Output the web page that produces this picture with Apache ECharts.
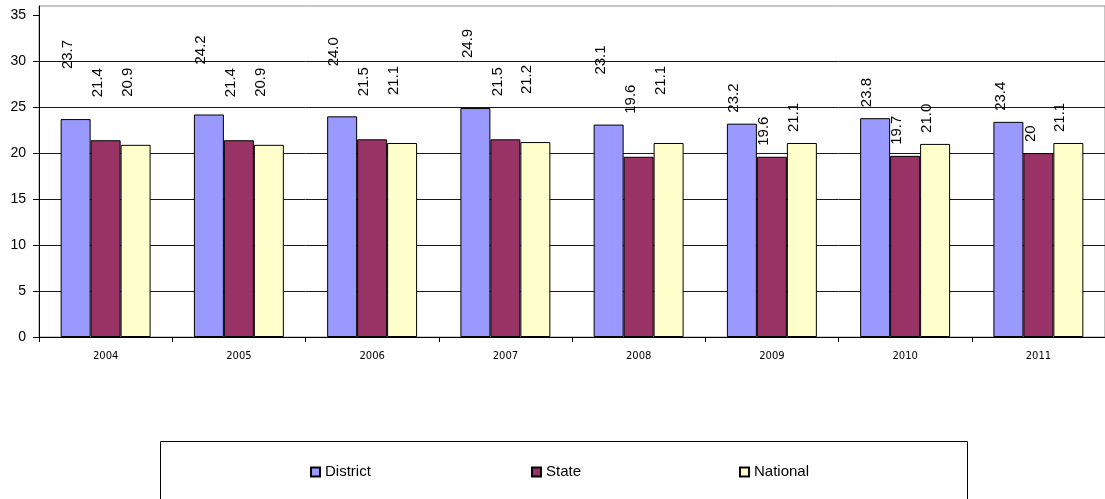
<!DOCTYPE html>
<html>
<head>
<meta charset="utf-8">
<script src="https://cdn.jsdelivr.net/npm/echarts@6/dist/echarts.min.js"></script>
<style>
html,body{margin:0;padding:0;background:#fff;}
#chart{width:1105px;height:499px;}
</style>
</head>
<body>
<div id="chart"></div>
<script>
const YEARS = ['2004','2005','2006','2007','2008','2009','2010','2011'];
const DISTRICT = [23.7, 24.2, 24.0, 24.9, 23.1, 23.2, 23.8, 23.4];
const STATE = [21.4, 21.4, 21.5, 21.5, 19.6, 19.6, 19.7, 20];
const NATIONAL = [20.9, 20.9, 21.1, 21.2, 21.1, 21.1, 21.0, 21.1];
const Y_TICKS = [0, 5, 10, 15, 20, 25, 30, 35];
const Y_MAX = 36;

const FONT = "'Liberation Sans', Arial, sans-serif";
const COLORS = ['#9999FF', '#993366', '#FFFFCC'];
// label lift above bar top: early years labels sit higher than later ones
const LIFT_EARLY = [50, 43, 48];
const LIFT_LATE = 11;

function makeSeries(name, values, si, fmt) {
  return {
    name: name,
    type: 'bar',
    barGap: '0%',
    barCategoryGap: '32.5%',
    itemStyle: { color: COLORS[si], borderColor: '#000', borderWidth: 1 },
    data: values.map((v, i) => ({
      value: v,
      label: { distance: i < 5 ? LIFT_EARLY[si] : LIFT_LATE }
    })),
    label: {
      show: true,
      position: 'top',
      rotate: 90,
      align: 'left',
      verticalAlign: 'middle',
      offset: [0, -8],
      color: '#000',
      fontFamily: FONT,
      fontSize: 15,
      formatter: p => fmt(p.value)
    }
  };
}

const chart = echarts.init(document.getElementById('chart'), null, { renderer: 'canvas' });

function legendAt(name, left) {
  return {
    data: [name],
    left: left,
    top: 464,
    padding: 0,
    itemWidth: 9,
    itemHeight: 9,
    icon: 'rect',
    selectedMode: false,
    textStyle: { fontFamily: FONT, fontSize: 15, color: '#000', lineHeight: 16 }
  };
}

chart.setOption({
  animation: false,
  backgroundColor: '#fff',
  grid: { left: 39, right: 0, top: 6, bottom: 162, containLabel: false,
          show: true, borderColor: '#8c8c8c', borderWidth: 1, backgroundColor: 'transparent' },
  xAxis: {
    type: 'category',
    data: YEARS,
    axisLine: { lineStyle: { color: '#000', width: 1 } },
    axisTick: { show: true, length: 5, lineStyle: { color: '#000' } },
    axisLabel: { color: '#000', fontFamily: "'DejaVu Sans', Tahoma, sans-serif", fontSize: 10, margin: 14 },
    splitLine: { show: false }
  },
  yAxis: {
    type: 'value',
    min: 0,
    max: Y_MAX,
    interval: 5,
    axisLine: { show: true, lineStyle: { color: '#000', width: 1 } },
    axisTick: { show: true, length: 6, lineStyle: { color: '#000' }, customValues: Y_TICKS },
    axisLabel: { color: '#000', fontFamily: FONT, fontSize: 14, margin: 13, customValues: Y_TICKS },
    splitLine: { show: true, showMaxLine: false, lineStyle: { color: '#1a1a1a', width: 1 } }
  },
  legend: [
    legendAt('District', 310),
    legendAt('State', 531),
    legendAt('National', 739)
  ],
  graphic: [{
    type: 'rect',
    shape: { x: 160.5, y: 441.5, width: 807, height: 100 },
    style: { fill: 'none', stroke: '#000', lineWidth: 1 },
    silent: true
  }],
  series: [
    makeSeries('District', DISTRICT, 0, v => v.toFixed(1)),
    makeSeries('State', STATE, 1, v => String(v)),
    makeSeries('National', NATIONAL, 2, v => v.toFixed(1))
  ]
});
</script>
</body>
</html>
